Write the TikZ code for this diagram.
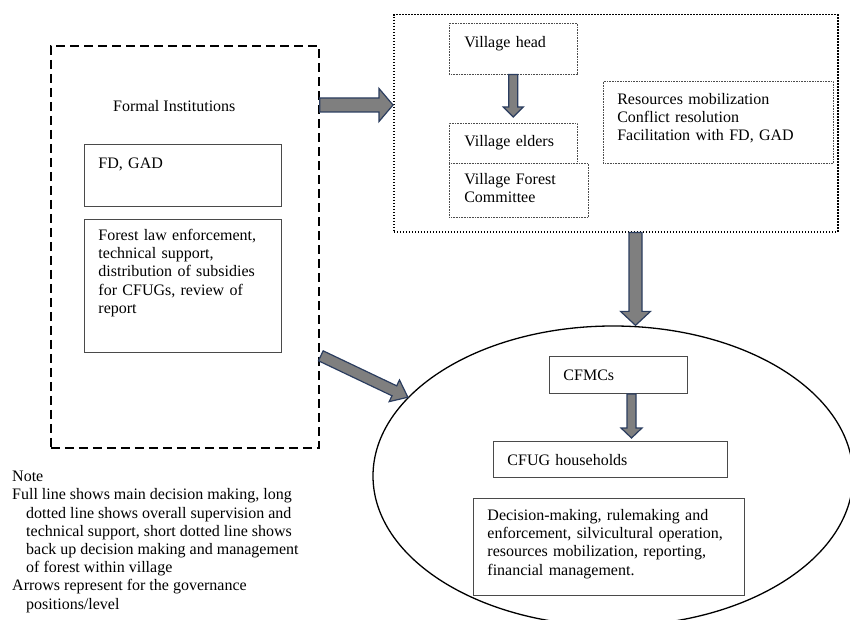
\documentclass[tikz,border=0pt]{standalone}
\usepackage{fontspec}
\setmainfont{Liberation Serif}
\usetikzlibrary{calc,shapes.geometric}
\definecolor{arrowfill}{HTML}{7F7F7F}
\definecolor{arrowline}{HTML}{2B3D5F}
\definecolor{boxline}{HTML}{4A4A4A}
\newcommand{\boxfont}{\fontsize{16}{18.2}\selectfont}
\newcommand{\govarrow}[5]{\draw[blockarrow] let \p1=(#1), \p2=(#2), \p3=($(#2)!#5!(#1)$) in
  ($(\p1)!#3!90:(\p2)$) -- ($(\p3)!#3!90:(\p2)$) -- ($(\p3)!#4!90:(\p2)$) -- (\p2)
  -- ($(\p3)!#4!-90:(\p2)$) -- ($(\p3)!#3!-90:(\p2)$) -- ($(\p1)!#3!-90:(\p2)$) -- cycle;}
\tikzset{
  blockarrow/.style={fill=arrowfill,draw=arrowline,line width=1.2pt,line join=miter},
  txtbox/.style={draw=boxline,line width=0.9pt,anchor=north west,align=left,inner xsep=14pt,inner ysep=0pt,font=\boxfont},
  dotbox/.style={txtbox,draw=black!70,line width=0.6pt,dash pattern=on 0.8pt off 0.8pt},
  longdash/.style={draw,line width=1.8pt,dash pattern=on 9pt off 5pt,anchor=north west,inner sep=0pt},
  shortdot/.style={draw,line width=1.5pt,dash pattern=on 1.5pt off 1.5pt,anchor=north west,inner sep=0pt}
}
\begin{document}
\begin{tikzpicture}[x=1pt,y=1pt]
\clip (0,0) rectangle (850,-620);
\node[longdash,minimum width=268pt,minimum height=402pt] (formal) at (50,-45) {};
\node[font=\boxfont,anchor=base west,inner sep=0pt] (fi) at (113,-112) {Formal Institutions};
\node[txtbox,text width=169pt,text height=24pt,text depth=38pt] (fd) at (84,-144) {FD, GAD};
\node[txtbox,text width=169pt,text height=21pt,text depth=112pt] (flaw) at (84,-219) {Forest law enforcement,\\technical support,\\distribution of subsidies\\for CFUGs, review of\\report};
\node[shortdot,minimum width=444pt,minimum height=217pt] (village) at (393,-14) {};
\node[dotbox,inner xsep=15pt,text width=98pt,text height=24pt,text depth=27pt] (vhead) at (449,-23) {Village head};
\node[dotbox,inner xsep=15pt,text width=98pt,text height=23pt,text depth=17pt] (velders) at (449,-123) {Village elders};
\node[dotbox,inner xsep=15pt,text width=109pt,text height=21pt,text depth=33pt] (vforest) at (449,-163) {Village Forest\\Committee};
\node[dotbox,text width=202pt,text height=23pt,text depth=59pt] (vres) at (603,-81) {Resources mobilization\\Conflict resolution\\Facilitation with FD, GAD};
\node[draw,ellipse,line width=1.3pt,minimum width=480pt,minimum height=300pt,inner sep=0pt] (cfug) at (613,-476) {};
\node[txtbox,text width=110pt,text height=24pt,text depth=13pt] (cfmc) at (549,-356) {CFMCs};
\node[txtbox,text width=206pt,text height=24pt,text depth=12pt] (cfughh) at (493,-441) {CFUG households};
\node[txtbox,text width=243pt,text height=22pt,text depth=75pt] (cfdec) at (473,-498) {Decision-making, rulemaking and\\enforcement, silvicultural operation,\\resources mobilization, reporting,\\financial management.};
\node[font=\boxfont,anchor=north west,align=left,inner sep=0pt] (note) at (12,-471) {Note\\Full line shows main decision making, long\\\hspace*{14pt}dotted line shows overall supervision and\\\hspace*{14pt}technical support, short dotted line shows\\\hspace*{14pt}back up decision making and management\\\hspace*{14pt}of forest within village\\Arrows represent for the governance\\\hspace*{14pt}positions/level};
\coordinate (a1s) at (formal.east |- 0,-105);
\coordinate (a1e) at (village.west |- 0,-105);
\coordinate (a2e) at ($(velders.north)+(0,6)$);
\coordinate (a3s) at (village.south -| 635.5,0);
\coordinate (a3e) at (a3s |- cfug.north);
\coordinate (a4s) at ($(formal.south east)+(1,93)$);
\coordinate (a5s) at (cfmc.south -| 631.5,0);
\coordinate (a5e) at (a5s |- 0,-438);
\govarrow{a1s}{a1e}{7pt}{16.5pt}{14pt}
\govarrow{vhead.south}{a2e}{4.5pt}{10pt}{10pt}
\govarrow{a3s}{a3e}{6.5pt}{15pt}{14pt}
\govarrow{a4s}{cfug.159}{5.5pt}{12pt}{15pt}
\govarrow{a5s}{a5e}{4.5pt}{10.5pt}{10pt}
\end{tikzpicture}
\end{document}
